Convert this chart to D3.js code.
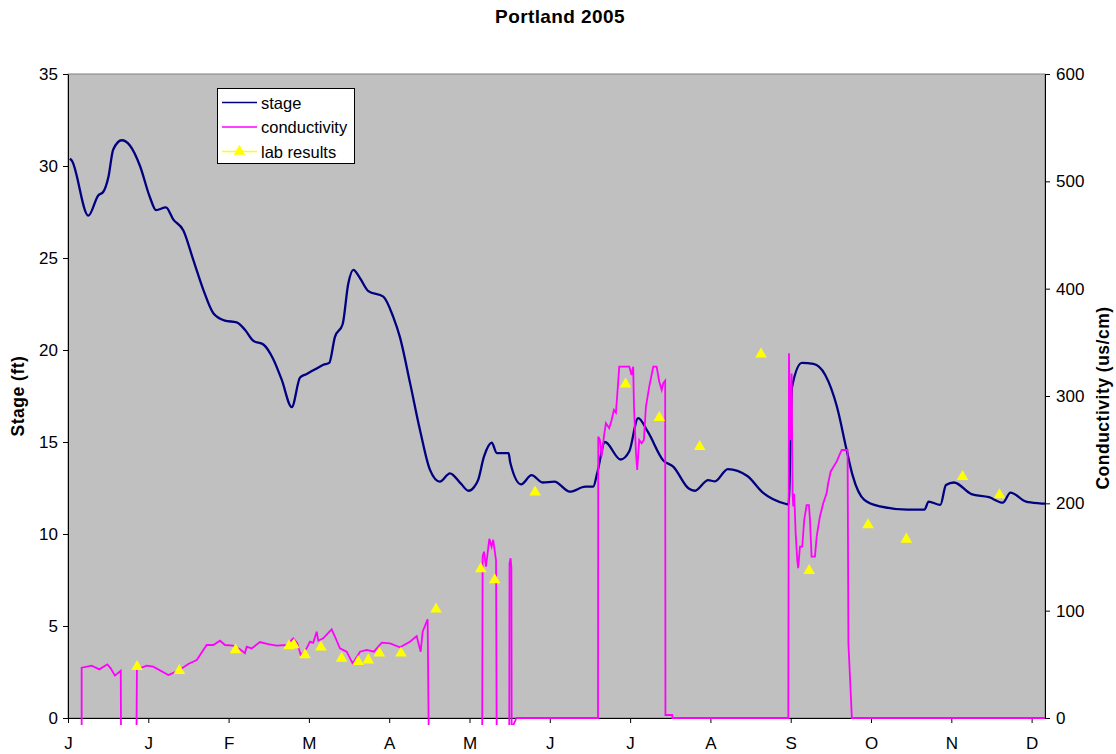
<!DOCTYPE html>
<html>
<head>
<meta charset="utf-8">
<script src="https://cdnjs.cloudflare.com/ajax/libs/d3/7.8.5/d3.min.js"></script>
<style>
  body { margin: 0; background: #fff; }
  text { font-family: "Liberation Sans", Arial, sans-serif; }
</style>
</head>
<body>
<div id="chart"></div>
<script>
// x is day of year (0..365)
var monthLabels = ["J", "J", "F", "M", "A", "M", "J", "J", "A", "S", "O", "N", "D"];
var monthTicks = [0, 30, 60, 90, 120, 150, 180, 210, 240, 270, 300, 330, 360];

// stage (ft), left axis
var stage = [
  [0.7, 30.4], [1.4, 30.3], [7.6, 27.3], [11.3, 28.4], [13.2, 28.6], [15.1, 29.4],
  [16.9, 30.9], [20.1, 31.4], [23.2, 31.1], [26.9, 30.0], [30.6, 28.3], [32.9, 27.6],
  [36.6, 27.75], [39.3, 27.1], [43.1, 26.5], [46.8, 24.9], [50.5, 23.3], [54.3, 22.0],
  [58.6, 21.6], [63.0, 21.5], [66.1, 21.1], [69.2, 20.5], [73.0, 20.3], [76.7, 19.5],
  [79.8, 18.4], [83.6, 16.9], [86.7, 18.5], [89.2, 18.7], [92.9, 19.0], [95.4, 19.2],
  [97.6, 19.3], [99.7, 20.7], [102.6, 21.4], [104.7, 23.6], [106.6, 24.35], [109.1, 23.9],
  [112.2, 23.2], [117.8, 22.9], [121.5, 21.8], [124.0, 20.7], [127.8, 18.2], [131.5, 15.65],
  [135.2, 13.5], [138.9, 12.85], [142.7, 13.3], [146.7, 12.75], [149.6, 12.35], [151.8, 12.57],
  [153.2, 12.93], [155.4, 14.2], [158.3, 14.96], [160.2, 14.4], [164.6, 14.4], [165.2, 13.9],
  [169.3, 12.7], [173.2, 13.2], [177.3, 12.8], [181.7, 12.85], [187.5, 12.3], [193.3, 12.57],
  [196.2, 12.57], [197.7, 13.3], [200.6, 15.0], [206.4, 14.05], [209.7, 14.5], [213.0, 16.3],
  [216.6, 15.56], [222.4, 14.0], [226.1, 13.66], [231.9, 12.47], [234.1, 12.35], [239.2, 12.93],
  [241.7, 12.86], [246.5, 13.53], [253.8, 13.15], [259.6, 12.25], [268.3, 11.63], [269.2, 11.6],
  [270.5, 18.0], [274.2, 19.3], [278.5, 19.24], [282.9, 18.64], [287.3, 16.9], [290.9, 14.56],
  [293.1, 13.2], [297.5, 11.85], [303.3, 11.5], [313.5, 11.33], [320.0, 11.33], [321.5, 11.76],
  [325.9, 11.58], [328.0, 12.66], [331.0, 12.8], [337.5, 12.17], [344.1, 12.0], [349.2, 11.7],
  [352.1, 12.25], [357.9, 11.76], [363.0, 11.67], [365, 11.65]
];

// conductivity (us/cm), right axis; negative readings run off the bottom
var conductivity = [
  [5.1, -10], [5.1, 46.9], [8.85, 48.7], [11.7, 45.3], [14.7, 50.0], [15.95, 46.3],
  [17.55, 39.4], [19.7, 44.1], [19.8, -10], [25.6, -10], [25.75, 45.3], [29.4, 48.7],
  [31.85, 47.8], [37.5, 40.0], [41.2, 44.1], [44.95, 50.3], [48.1, 54.0], [51.8, 68.0],
  [54.3, 68.0], [56.8, 72.0], [58.65, 68.0], [61.75, 67.4], [64.25, 64.0], [66.1, 60.3],
  [66.75, 66.4], [68.6, 64.8], [71.7, 70.8], [74.8, 68.9], [77.95, 67.4], [81.7, 68.0],
  [84.15, 74.2], [85.65, 69.6], [86.95, 58.7], [89.15, 64.9], [90.4, 71.1], [91.6, 70.0],
  [92.9, 80.4], [93.5, 72.0], [95.35, 74.2], [98.5, 82.6], [99.75, 75.7], [101.6, 64.9],
  [104.1, 61.8], [106.35, 50.9], [109.1, 61.8], [111.6, 63.4], [114.3, 61.8], [117.2, 70.2],
  [120.3, 69.6], [124.0, 65.9], [127.75, 71.1], [130.25, 76.4], [131.75, 61.8], [132.5, 80.4],
  [134.35, 92.0], [134.75, -10], [154.75, -10], [154.9, 150.3], [155.4, 155.0], [156.15, 141.0],
  [157.4, 167.0], [158.25, 159.6], [158.85, 166.0], [159.9, 147.0], [160.15, -10], [164.85, -10],
  [164.95, 144.0], [165.35, 148.8], [165.65, 140.0], [165.75, -10], [167.55, 0], [198.0, 0],
  [198.1, 262.0], [198.75, 259.0], [199.35, 243.5], [200.2, 262.0], [200.95, 274.6], [202.2, 270.0],
  [203.1, 277.6], [203.95, 287.0], [204.7, 284.4], [205.2, 301.0], [205.95, 327.3], [209.7, 327.3],
  [210.55, 319.6], [211.15, 327.3], [211.45, 290.0], [212.2, 246.6], [212.65, 231.0], [213.4, 259.0],
  [214.3, 256.0], [215.15, 259.0], [215.9, 290.0], [217.15, 308.7], [218.65, 327.3], [219.9, 327.3],
  [220.9, 313.3], [221.8, 305.6], [222.4, 312.0], [223.1, 314.3], [223.2, 2.8], [225.75, 2.8],
  [225.8, 0], [269.1, 0], [269.35, 339.8], [269.95, 259.0], [270.35, 321.0], [270.7, 209.0],
  [270.95, 197.0], [271.3, 209.0], [271.85, 172.0], [272.45, 147.0], [272.8, 139.5], [273.45, 159.6],
  [274.3, 159.6], [275.05, 184.5], [275.95, 198.4], [276.8, 198.4], [277.2, 184.5], [277.8, 150.3],
  [279.05, 150.3], [279.7, 169.0], [280.9, 187.6], [282.15, 200.0], [283.4, 209.4], [284.0, 218.7],
  [284.9, 229.5], [287.15, 238.8], [289.05, 249.7], [291.25, 249.7], [291.55, 70.0], [292.85, 0],
  [365, 0]
];

// lab results (us/cm), right axis
var labDays = [25.8, 41.6, 62.6, 82.6, 84.4, 88.5, 94.5, 102.2, 108.4, 112.2, 116.3, 124.4,
  137.5, 154.2, 159.4, 174.5, 208.3, 220.9, 236.0, 258.9, 276.9, 298.9, 313.2, 334.2, 348.0];
var labValues = [47.8, 44.1, 63.4, 67.1, 68.0, 58.7, 65.9, 55.6, 52.5, 54.0, 60.3, 60.3,
  101.3, 138.8, 128.6, 210.3, 311, 279.8, 252.8, 339, 137.2, 179.8, 166.5, 224.8, 207.8];

var stageTicks = [0, 5, 10, 15, 20, 25, 30, 35];
var condTicks = [0, 100, 200, 300, 400, 500, 600];

var W = 1116, H = 754;
var pLeft = 68, pRight = 1045, pTop = 74, pBottom = 718;

var svg = d3.select("#chart").append("svg")
  .attr("width", W)
  .attr("height", H);

var x = d3.scaleLinear().domain([0, 365]).range([pLeft, pRight]);
var yL = d3.scaleLinear().domain([0, 35]).range([pBottom, pTop]);
var yR = d3.scaleLinear().domain([0, 600]).range([pBottom, pTop]);

// plot area
svg.append("rect")
  .attr("x", pLeft).attr("y", pTop)
  .attr("width", pRight - pLeft).attr("height", pBottom - pTop)
  .attr("fill", "#c0c0c0")
  .attr("stroke", "#808080");

svg.append("defs").append("clipPath").attr("id", "clip")
  .append("rect")
  .attr("x", pLeft).attr("y", pTop)
  .attr("width", pRight - pLeft).attr("height", pBottom - pTop + 7);

// title
svg.append("text")
  .attr("x", 560).attr("y", 23)
  .attr("text-anchor", "middle")
  .style("font-size", "19px").style("font-weight", "bold")
  .style("letter-spacing", "0.4px")
  .text("Portland 2005");

// axes
var axL = svg.append("g")
  .attr("transform", "translate(" + pLeft + ",0)")
  .call(d3.axisLeft(yL).tickValues(stageTicks).tickSize(5).tickSizeOuter(0).tickPadding(5));

var axR = svg.append("g")
  .attr("transform", "translate(" + pRight + ",0)")
  .call(d3.axisRight(yR).tickValues(condTicks).tickSize(5).tickSizeOuter(0).tickPadding(6));

var axB = svg.append("g")
  .attr("transform", "translate(0," + pBottom + ")")
  .call(d3.axisBottom(x).tickValues(monthTicks).tickSize(5).tickSizeOuter(0).tickPadding(14)
    .tickFormat(function (d, i) { return monthLabels[i]; }));

[axL, axR, axB].forEach(function (g) {
  g.selectAll("text").style("font-size", "17px").attr("fill", "#000")
    .style("font-family", "'Liberation Sans', Arial, sans-serif");
  g.select(".domain").attr("stroke", "#000");
  g.selectAll(".tick line").attr("stroke", "#000");
});

// axis titles
svg.append("text")
  .attr("transform", "translate(24,396) rotate(-90)")
  .attr("text-anchor", "middle")
  .style("font-size", "17.5px").style("font-weight", "bold")
  .style("letter-spacing", "0.5px")
  .text("Stage (ft)");

svg.append("text")
  .attr("transform", "translate(1109,398) rotate(-90)")
  .attr("text-anchor", "middle")
  .style("font-size", "17.5px").style("font-weight", "bold")
  .style("letter-spacing", "0.5px")
  .text("Conductivity (us/cm)");

var plot = svg.append("g").attr("clip-path", "url(#clip)");

var stageLine = d3.line()
  .x(function (d) { return x(d[0]); })
  .y(function (d) { return yL(d[1]); })
  .curve(d3.curveMonotoneX);

plot.append("path")
  .datum(stage)
  .attr("d", stageLine)
  .attr("fill", "none")
  .attr("stroke", "#000080")
  .attr("stroke-width", 2.3);

var condLine = d3.line()
  .x(function (d) { return x(d[0]); })
  .y(function (d) { return yR(d[1]); });

plot.append("path")
  .datum(conductivity)
  .attr("d", condLine)
  .attr("fill", "none")
  .attr("stroke", "#ff00ff")
  .attr("stroke-width", 1.8);

var tri = d3.symbol().type(d3.symbolTriangle).size(58);

svg.append("g").selectAll("path")
  .data(labDays)
  .enter()
  .append("path")
  .attr("d", tri)
  .attr("transform", function (d, i) { return "translate(" + x(d) + "," + yR(labValues[i]) + ")"; })
  .attr("fill", "#ffff00");

// legend
var legend = svg.append("g");
legend.append("rect")
  .attr("x", 217.5).attr("y", 88.5)
  .attr("width", 137).attr("height", 75)
  .attr("fill", "#fff").attr("stroke", "#000");

var legendItems = [
  { name: "stage", color: "#000080", marker: false },
  { name: "conductivity", color: "#ff00ff", marker: false },
  { name: "lab results", color: "#ffff00", marker: true }
];

legendItems.forEach(function (d, i) {
  var yy = 102.5 + i * 24.5;
  legend.append("line")
    .attr("x1", 222).attr("x2", 257)
    .attr("y1", yy).attr("y2", yy)
    .attr("stroke", d.color).attr("stroke-width", 1.5);
  if (d.marker) {
    legend.append("path")
      .attr("d", tri)
      .attr("transform", "translate(239.5," + yy + ")")
      .attr("fill", d.color);
  }
  legend.append("text")
    .attr("x", 261).attr("y", yy + 6)
    .style("font-size", "16.5px")
    .text(d.name);
});
</script>
</body>
</html>
